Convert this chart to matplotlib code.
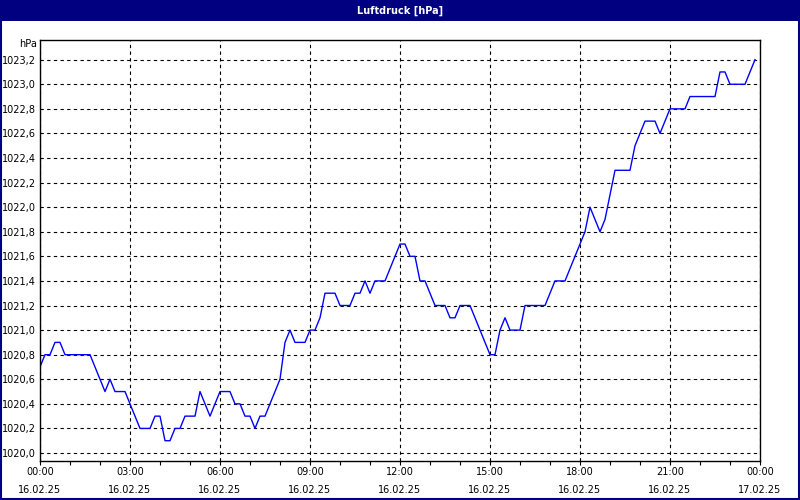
import pandas as pd
import matplotlib
matplotlib.use("Agg")
import matplotlib.pyplot as plt
import matplotlib.dates as mdates
from matplotlib.patches import Rectangle

# Luftdruck, 10-Minuten-Werte vom 16.02.25 (hPa)
druck = [
    1020.7, 1020.8, 1020.8, 1020.9, 1020.9, 1020.8, 1020.8, 1020.8, 1020.8, 1020.8,
    1020.8, 1020.7, 1020.6, 1020.5, 1020.6, 1020.5, 1020.5, 1020.5, 1020.4, 1020.3,
    1020.2, 1020.2, 1020.2, 1020.3, 1020.3, 1020.1, 1020.1, 1020.2, 1020.2, 1020.3,
    1020.3, 1020.3, 1020.5, 1020.4, 1020.3, 1020.4, 1020.5, 1020.5, 1020.5, 1020.4,
    1020.4, 1020.3, 1020.3, 1020.2, 1020.3, 1020.3, 1020.4, 1020.5, 1020.6, 1020.9,
    1021.0, 1020.9, 1020.9, 1020.9, 1021.0, 1021.0, 1021.1, 1021.3, 1021.3, 1021.3,
    1021.2, 1021.2, 1021.2, 1021.3, 1021.3, 1021.4, 1021.3, 1021.4, 1021.4, 1021.4,
    1021.5, 1021.6, 1021.7, 1021.7, 1021.6, 1021.6, 1021.4, 1021.4, 1021.3, 1021.2,
    1021.2, 1021.2, 1021.1, 1021.1, 1021.2, 1021.2, 1021.2, 1021.1, 1021.0, 1020.9,
    1020.8, 1020.8, 1021.0, 1021.1, 1021.0, 1021.0, 1021.0, 1021.2, 1021.2, 1021.2,
    1021.2, 1021.2, 1021.3, 1021.4, 1021.4, 1021.4, 1021.5, 1021.6, 1021.7, 1021.8,
    1022.0, 1021.9, 1021.8, 1021.9, 1022.1, 1022.3, 1022.3, 1022.3, 1022.3, 1022.5,
    1022.6, 1022.7, 1022.7, 1022.7, 1022.6, 1022.7, 1022.8, 1022.8, 1022.8, 1022.8,
    1022.9, 1022.9, 1022.9, 1022.9, 1022.9, 1022.9, 1023.1, 1023.1, 1023.0, 1023.0,
    1023.0, 1023.0, 1023.1, 1023.2,
]
zeiten = pd.date_range("2025-02-16 00:00", periods=len(druck), freq="10min")

tick_zeiten = pd.date_range("2025-02-16 00:00", "2025-02-17 00:00", freq="3h")
tick_labels = [t.strftime("%H:%M") + "\n" + t.strftime("%d.%m.%y") for t in tick_zeiten]
y_ticks = [1020.0 + 0.2 * i for i in range(17)]

plt.rcParams["font.family"] = ["DejaVu Sans"]

fig = plt.figure(figsize=(8, 5), dpi=100)
fig.patch.set_facecolor("white")

# Titelleiste und Rahmen
fig.patches.append(Rectangle((0, 0.958), 1, 0.042, transform=fig.transFigure,
                             facecolor="#000080", edgecolor="none", zorder=0))
fig.patches.append(Rectangle((0.001, 0.002), 0.998, 0.996, transform=fig.transFigure,
                             facecolor="none", edgecolor="#000080", linewidth=1.5, zorder=1))
fig.text(0.5, 0.979, "Luftdruck [hPa]", color="white", fontsize=7, fontweight="bold",
         ha="center", va="center")

ax = fig.add_axes([0.05, 0.078, 0.90, 0.842])
ax.plot(zeiten, druck, color="#0000ff", linewidth=1)

ax.set_xlim(pd.Timestamp("2025-02-16 00:00"), pd.Timestamp("2025-02-17 00:00"))
ax.set_ylim(1019.935, 1023.36)

ax.set_xticks(tick_zeiten)
ax.set_xticklabels(tick_labels, fontsize=7)
for lab in ax.get_xticklabels():
    lab.set_linespacing(2.0)
ax.xaxis.set_minor_locator(mdates.HourLocator())
ax.tick_params(axis="x", which="both", direction="out", length=3, width=0.8, pad=1.5)

ax.set_yticks(y_ticks)
ax.set_yticklabels([f"{v:.1f}".replace(".", ",") for v in y_ticks], fontsize=7)
ax.tick_params(axis="y", length=0, pad=3)
ax.text(-0.004, 0.99, "hPa", transform=ax.transAxes, ha="right", va="center", fontsize=7)

ax.grid(True, color="black", linestyle=(0, (3, 3)), linewidth=0.8)
for s in ax.spines.values():
    s.set_color("black")
    s.set_linewidth(1)

fig.savefig("out.png", dpi=100)
